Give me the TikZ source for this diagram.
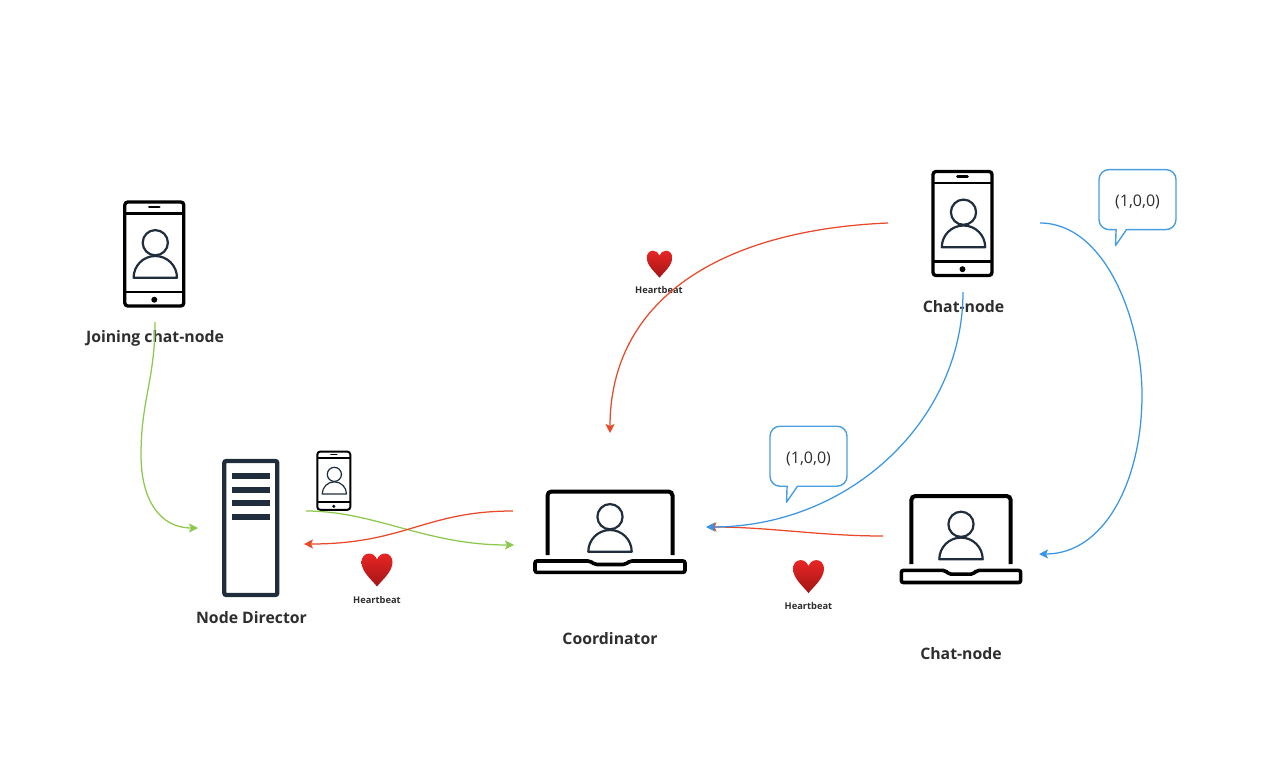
\documentclass[tikz,border=0pt]{standalone}
\usepackage{fontspec}
\setmainfont{Open Sans}
\usetikzlibrary{arrows.meta}
\definecolor{iconInk}{HTML}{1F2D3D}
\definecolor{labelInk}{HTML}{2E2E2E}
\definecolor{linkGreen}{HTML}{8CC84B}
\definecolor{linkRed}{HTML}{E8492A}
\definecolor{linkBlue}{HTML}{3A96E3}
\definecolor{bubbleBlue}{HTML}{4A9EE0}
\definecolor{heartTop}{HTML}{E82525}
\definecolor{heartBottom}{HTML}{A31515}
\newcommand{\drawperson}[1]{%
    \draw[iconInk, line width=#1pt] (0,-35) circle[radius=12.6];
    \draw[iconInk, line width=#1pt, line join=round] (-21.7,0) arc[start angle=180, end angle=360, radius=21.7] -- cycle;
}
\tikzset{
    nodeLabel/.style={font=\fontsize{15.8}{18}\selectfont\bfseries, text=labelInk, inner sep=0pt},
    beatLabel/.style={font=\fontsize{9.3}{11}\selectfont\bfseries, text=labelInk, inner sep=0pt},
    bubbleLabel/.style={font=\fontsize{16}{18}\selectfont, text=labelInk, inner sep=0pt},
    link/.style={->, line width=1.25pt},
    pics/person/.style={code={\drawperson{#1}}},
    pics/phone/.style 2 args={code={
        \draw[line width=#1pt, rounded corners=3pt] (-29.5,-52) rectangle (29.5,52);
        \draw[line width=#1*.65pt] (-29.5,-40.5) -- (29.5,-40.5);
        \draw[line width=#1*.65pt] (-29.5,38) -- (29.5,38);
        \draw[line width=#1*.85pt, line cap=round] (-5,-47) -- (5,-47);
        \fill (0,45.7) circle[radius=3];
        \begin{scope}[shift={(1,23.7)}]
            \drawperson{#2}
        \end{scope}
    }},
    pics/laptop/.style={code={
        \draw[line width=4pt, rounded corners=4pt] (-62.5,0) -- (-62.5,-63.5) -- (62.5,-63.5) -- (62.5,0);
        \draw[line width=3.6pt, rounded corners=2pt] (-75,6) -- (-20,6) -- (-15,9.5) -- (15,9.5) -- (20,6) -- (75,6) -- (75,17.3) -- (-75,17.3) -- cycle;
    }},
    pics/server/.style={code={
        \draw[iconInk, line width=4.3pt, rounded corners=2pt] (-26.5,-67) rectangle (26.5,67);
        \foreach \bary in {-55,-41.5,-28,-14.5}
            \fill[iconInk] (-19,\bary) rectangle (19,\bary+6.4);
    }},
    pics/heart/.style={code={
        \shade[top color=heartTop, bottom color=heartBottom] (0,16.5)
            .. controls (-5,10) and (-15.5,2) .. (-15.5,-8)
            .. controls (-15.5,-13) and (-12,-16.5) .. (-8,-16.5)
            .. controls (-4,-16.5) and (-1.5,-14) .. (0,-10.5)
            .. controls (1.5,-14) and (4,-16.5) .. (8,-16.5)
            .. controls (12,-16.5) and (15.5,-13) .. (15.5,-8)
            .. controls (15.5,2) and (5,10) .. (0,16.5) -- cycle;
    }},
    pics/bubble/.style={code={
        \draw[bubbleBlue, line width=1.4pt, line join=round] (-21.4,30) [rounded corners=10pt] -- (-38.5,30) -- (-38.5,-30) -- (38.5,-30) -- (38.5,30) [sharp corners] -- (-11,30) -- (-22,46) -- cycle;
    }},
}
\begin{document}
\begin{tikzpicture}[x=1pt, y=-1pt, >={Stealth[length=9pt, width=9pt, inset=2pt]}]
    \useasboundingbox (0,0) rectangle (1277,782);

    \pic (joining) at (154.3,254) {phone={3.3}{2.2}};
    \pic (carried) at (333.8,480.7) [scale=.56] {phone={2}{1.2}};
    \pic (upperchat) at (962.5,223.5) {phone={3.3}{2.2}};
    \pic (director) at (250.8,528) {server};
    \pic (coordlaptop) at (610,555) {laptop};
    \pic (coordperson) at (610,551.7) {person=2.2};
    \pic (lowerlaptop) at (961,564) [xscale=.795, yscale=1.07] {laptop};
    \pic (lowerperson) at (961,559.3) {person=2.2};

    \pic (heartA) at (377,570) {heart};
    \pic (heartB) at (659.5,264.2) [scale=.82] {heart};
    \pic (heartC) at (808.5,576.6) {heart};
    \pic (bubbleA) at (1137.5,199.6) {bubble};
    \pic (bubbleB) at (808.5,456.2) {bubble};

    \node[nodeLabel] (joinLabel) at (155,338) {Joining chat-node};
    \node[nodeLabel] (directorLabel) at (251.5,618) {Node Director};
    \node[nodeLabel] (coordLabel) at (610,639) {Coordinator};
    \node[nodeLabel] (upperLabel) at (963.5,307) {Chat-node};
    \node[nodeLabel] (lowerLabel) at (961,654) {Chat-node};
    \node[beatLabel] (beatA) at (377,600) {Heartbeat};
    \node[beatLabel] (beatB) at (659,290) {Heartbeat};
    \node[beatLabel] (beatC) at (808.5,606) {Heartbeat};
    \node[bubbleLabel] (voteA) at (1137.5,201.5) {(1,0,0)};
    \node[bubbleLabel] (voteB) at (808.5,458.5) {(1,0,0)};

    \coordinate (joinOut) at (155,322);
    \coordinate (directorIn) at (198,528);
    \coordinate (directorOut) at (306,511);
    \coordinate (directorBeat) at (304,544);
    \coordinate (coordIn) at (514,545);
    \coordinate (coordBeat) at (513,511);
    \coordinate (coordTop) at (610,433);
    \coordinate (coordRight) at (706,527);
    \coordinate (coordRightB) at (707.5,527);
    \coordinate (upperBeat) at (888,223);
    \coordinate (upperDown) at (963,292);
    \coordinate (upperRight) at (1040,223);
    \coordinate (lowerBeat) at (883,536);
    \coordinate (lowerIn) at (1039,554);

    \draw[link, linkGreen] (joinOut) .. controls (155,380) and (141,400) .. (141,455) .. controls (141,500) and (160,528) .. (directorIn);
    \draw[link, linkGreen] (directorOut) .. controls (375,511) and (425,545) .. (coordIn);
    \draw[link, linkRed] (coordBeat) .. controls (425,511) and (405,544) .. (directorBeat);
    \draw[link, linkRed] (upperBeat) .. controls (720,230) and (610,300) .. (coordTop);
    \draw[link, linkRed] (lowerBeat) .. controls (820,536) and (770,527) .. (coordRightB);
    \draw[link, linkBlue] (upperDown) .. controls (963,420) and (850,527) .. (coordRight);
    \draw[link, linkBlue] (upperRight) .. controls (1105,223) and (1142,320) .. (1142,395) .. controls (1142,480) and (1105,554) .. (lowerIn);
\end{tikzpicture}
\end{document}
